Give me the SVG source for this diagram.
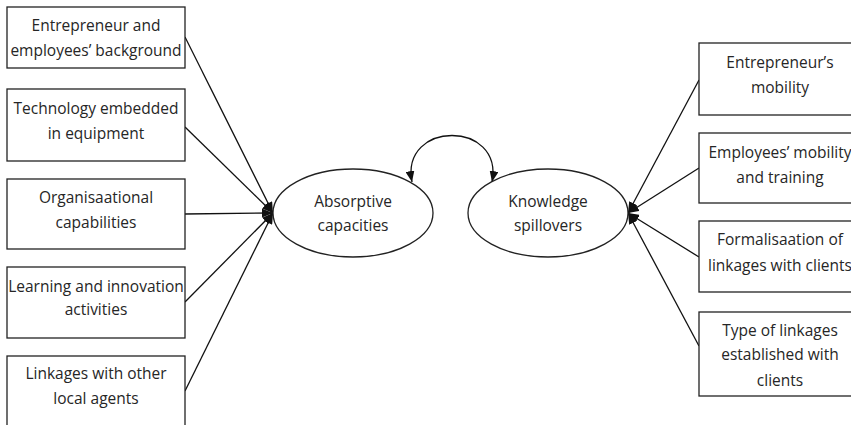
<svg xmlns="http://www.w3.org/2000/svg" width="851" height="425" viewBox="0 0 851 425">
<style>
.box{fill:#fff;stroke:#222;stroke-width:1.3}
.ell{fill:#fff;stroke:#222;stroke-width:1.3}
.t{font-family:"Open Sans","Liberation Sans",sans-serif;font-size:15.5px;fill:#262626;text-anchor:middle}
.c{fill:none;stroke:#111;stroke-width:1.3}
</style>
<defs>
<marker id="ah" markerUnits="userSpaceOnUse" markerWidth="11" markerHeight="9" refX="11" refY="4.5" orient="auto-start-reverse">
<path d="M0,0 L11,4.5 L0,9 z" fill="#111"/>
</marker>
</defs>
<rect width="851" height="425" fill="#fff"/>
<g id="connectors">
<line class="c" x1="185" y1="37" x2="273" y2="213" marker-end="url(#ah)"/>
<line class="c" x1="185" y1="127" x2="273" y2="213" marker-end="url(#ah)"/>
<line class="c" x1="185" y1="214" x2="273" y2="213" marker-end="url(#ah)"/>
<line class="c" x1="185" y1="302" x2="273" y2="213" marker-end="url(#ah)"/>
<line class="c" x1="185" y1="391" x2="273" y2="213" marker-end="url(#ah)"/>
<line class="c" x1="699" y1="80" x2="628" y2="213" marker-end="url(#ah)"/>
<line class="c" x1="699" y1="168" x2="628" y2="213" marker-end="url(#ah)"/>
<line class="c" x1="699" y1="257" x2="628" y2="213" marker-end="url(#ah)"/>
<line class="c" x1="699" y1="346" x2="628" y2="213" marker-end="url(#ah)"/>
<path class="c" d="M412,182 C400,120 504,120 492,182" marker-start="url(#ah)" marker-end="url(#ah)"/>
</g>
<g id="n1"><rect class="box" x="7" y="7" width="178" height="61"/><text class="t" x="96" y="31">Entrepreneur and</text><text class="t" x="96" y="56">employees’ background</text></g>
<g id="n2"><rect class="box" x="7" y="89" width="178" height="72"/><text class="t" x="96" y="114">Technology embedded</text><text class="t" x="96" y="139">in equipment</text></g>
<g id="n3"><rect class="box" x="7" y="179" width="178" height="70"/><text class="t" x="96" y="203">Organisaational</text><text class="t" x="96" y="228">capabilities</text></g>
<g id="n4"><rect class="box" x="7" y="267" width="178" height="71"/><text class="t" x="96" y="292">Learning and innovation</text><text class="t" x="96" y="315">activities</text></g>
<g id="n5"><rect class="box" x="7" y="356" width="178" height="80"/><text class="t" x="96" y="379">Linkages with other</text><text class="t" x="96" y="404">local agents</text></g>
<g id="absorptive"><ellipse class="ell" cx="353" cy="213" rx="80" ry="44"/><text class="t" x="353" y="207">Absorptive</text><text class="t" x="353" y="231">capacities</text></g>
<g id="knowledge"><ellipse class="ell" cx="548" cy="213" rx="80" ry="44"/><text class="t" x="548" y="207">Knowledge</text><text class="t" x="548" y="231">spillovers</text></g>
<g id="r1"><rect class="box" x="699" y="43" width="165" height="72"/><text class="t" x="780" y="68">Entrepreneur’s</text><text class="t" x="780" y="93">mobility</text></g>
<g id="r2"><rect class="box" x="699" y="133" width="165" height="70"/><text class="t" x="780" y="158">Employees’ mobility</text><text class="t" x="780" y="183">and training</text></g>
<g id="r3"><rect class="box" x="699" y="221" width="165" height="71"/><text class="t" x="780" y="245">Formalisaation of</text><text class="t" x="780" y="271">linkages with clients</text></g>
<g id="r4"><rect class="box" x="699" y="312" width="165" height="84"/><text class="t" x="780" y="336">Type of linkages</text><text class="t" x="780" y="360">established with</text><text class="t" x="780" y="386">clients</text></g>
</svg>
